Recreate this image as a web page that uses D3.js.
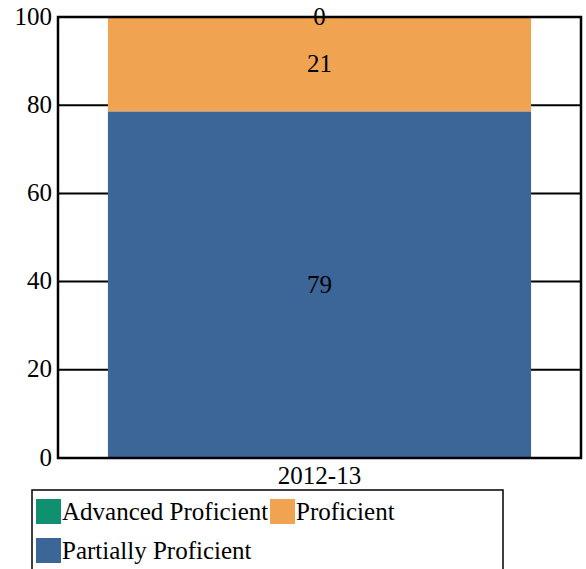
<!DOCTYPE html>
<html>
<head>
<meta charset="utf-8">
<script src="https://cdn.jsdelivr.net/npm/d3@7"></script>
<style>
  body { margin: 0; background: #fff; }
  text { font-family: "Liberation Serif", "DejaVu Serif", serif; }
</style>
</head>
<body>
<div id="chart"></div>
<script>
// chart data
var years = ["2012-13"];
var seriesNames = ["Partially Proficient", "Proficient", "Advanced Proficient"];
var partially = [78.6];
var proficient = [21.4];
var advanced = [0];
var yTicks = [0, 20, 40, 60, 80, 100];
var colors = ["#3c6698", "#f0a452", "#0f9170"];
var legendOrder = ["Advanced Proficient", "Proficient", "Partially Proficient"];

var width = 586, height = 569;
var margin = { left: 58, top: 17, right: 5, bottom: 111 };
var innerW = width - margin.left - margin.right;
var innerH = height - margin.top - margin.bottom;

var svg = d3.select("#chart").append("svg")
  .attr("width", width).attr("height", height);

var g = svg.append("g").attr("transform", "translate(" + margin.left + "," + margin.top + ")");

var x = d3.scaleBand().domain(years).range([0, innerW]).paddingInner(0).paddingOuter(0.118);
var y = d3.scaleLinear().domain([0, 100]).range([innerH, 0]);

var rows = years.map(function (yr, i) {
  return { year: yr, "Partially Proficient": partially[i], "Proficient": proficient[i], "Advanced Proficient": advanced[i] };
});
var stack = d3.stack().keys(seriesNames)(rows);
var color = d3.scaleOrdinal().domain(seriesNames).range(colors);

// gridlines
g.selectAll("line.grid").data(yTicks).enter().append("line")
  .attr("class", "grid")
  .attr("x1", 0).attr("x2", innerW)
  .attr("y1", function (d) { return y(d); }).attr("y2", function (d) { return y(d); })
  .attr("stroke", "#000").attr("stroke-width", 2);

// bars
var layers = g.selectAll("g.layer").data(stack).enter().append("g")
  .attr("class", "layer").attr("fill", function (d) { return color(d.key); });
layers.selectAll("rect").data(function (d) { return d; }).enter().append("rect")
  .attr("x", function (d) { return x(d.data.year); })
  .attr("width", x.bandwidth())
  .attr("y", function (d) { return y(d[1]); })
  .attr("height", function (d) { return y(d[0]) - y(d[1]); });

// border
g.append("rect").attr("x", 0).attr("y", 0).attr("width", innerW).attr("height", innerH)
  .attr("fill", "none").attr("stroke", "#000").attr("stroke-width", 2.5);

// value labels
stack.forEach(function (s) {
  s.forEach(function (d) {
    g.append("text")
      .attr("x", x(d.data.year) + x.bandwidth() / 2)
      .attr("y", y((d[0] + d[1]) / 2))
      .attr("dy", "0.32em")
      .attr("text-anchor", "middle")
      .attr("font-size", 25)
      .text(Math.round(d[1] - d[0]));
  });
});

// y axis labels
g.selectAll("text.ytick").data(yTicks).enter().append("text")
  .attr("class", "ytick")
  .attr("x", -6).attr("y", function (d) { return y(d); })
  .attr("dy", "0.3em").attr("text-anchor", "end").attr("font-size", 25)
  .text(function (d) { return d; });

// x axis labels
g.selectAll("text.xtick").data(years).enter().append("text")
  .attr("class", "xtick")
  .attr("x", function (d) { return x(d) + x.bandwidth() / 2; })
  .attr("y", innerH + 26).attr("text-anchor", "middle").attr("font-size", 25)
  .text(function (d) { return d; });

// legend
var legend = svg.append("g").attr("transform", "translate(32,490)");
legend.append("rect").attr("x", 0).attr("y", 0).attr("width", 471).attr("height", 90)
  .attr("fill", "#fff").attr("stroke", "#000").attr("stroke-width", 1.5);
var legendPos = [[4, 9], [238, 9], [4, 48]];
legendOrder.forEach(function (name, i) {
  var item = legend.append("g").attr("transform", "translate(" + legendPos[i][0] + "," + legendPos[i][1] + ")");
  item.append("rect").attr("width", 25).attr("height", 25).attr("fill", color(name));
  item.append("text").attr("x", 26).attr("y", 21).attr("font-size", 25).text(name);
});
</script>
</body>
</html>
